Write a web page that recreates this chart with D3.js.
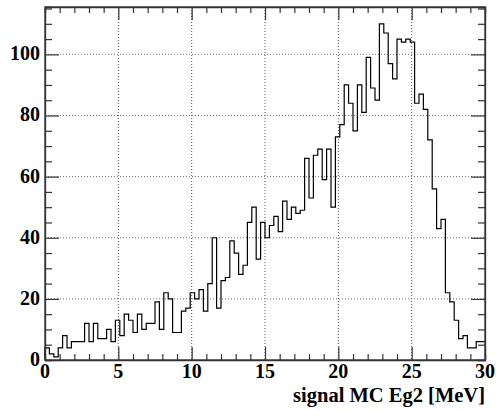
<!DOCTYPE html>
<html>
<head>
<meta charset="utf-8">
<script src="https://cdn.jsdelivr.net/npm/d3@7"></script>
<style>
  body { margin: 0; background: #fff; }
  text { font-family: "Liberation Serif", "DejaVu Serif", serif; font-weight: bold; }
</style>
</head>
<body>
<div id="chart"></div>
<script>
// histogram: 100 bins of 0.3 MeV from 0 to 30
const binLow = 0
const binWidth = 0.3
const counts = [
  4, 2, 1, 4, 8, 4, 6, 6, 6, 12,
  6, 12, 7, 7, 10, 6, 13, 8, 15, 13,
  9, 15, 10, 12, 12, 19, 10, 22, 20, 9,
  9, 16, 17, 22, 20, 23, 16, 25, 40, 17,
  26, 27, 39, 35, 28, 31, 45, 50, 33, 45,
  40, 44, 47, 42, 52, 46, 50, 48, 49, 66,
  53, 67, 69, 59, 69, 50, 73, 77, 90, 84,
  75, 90, 81, 99, 89, 85, 110, 107, 97, 92,
  105, 104, 105, 104, 84, 87, 82, 72, 56, 43,
  46, 22, 19, 13, 7, 8, 4, 4, 6, 6
]
const xMajor = [0, 5, 10, 15, 20, 25, 30]
const yMajor = [0, 20, 40, 60, 80, 100]
const xTitle = "signal MC Eg2 [MeV]"

const W = 496, H = 410
const margin = {top: 7, right: 11, bottom: 50, left: 45}
const width = W - margin.left - margin.right,
      height = H - margin.top - margin.bottom

const svg = d3.select("#chart")
  .append("svg")
    .attr("width", W)
    .attr("height", H)
  .append("g")
    .attr("transform", `translate(${margin.left},${margin.top})`)

const x = d3.scaleLinear().domain([0, 30]).range([0, width])
const y = d3.scaleLinear().domain([0, d3.max(counts) * 1.05]).range([height, 0])

// grid
svg.append("g").selectAll("line")
  .data(xMajor.filter(d => d > 0 && d < 30))
  .enter().append("line")
    .attr("x1", d => x(d)).attr("x2", d => x(d))
    .attr("y1", 0).attr("y2", height)
    .attr("stroke", "#555").attr("stroke-dasharray", "1,2")
svg.append("g").selectAll("line")
  .data(yMajor.filter(d => d > 0))
  .enter().append("line")
    .attr("x1", 0).attr("x2", width)
    .attr("y1", d => y(d)).attr("y2", d => y(d))
    .attr("stroke", "#777").attr("stroke-dasharray", "1,2")

// histogram
const pts = counts.map((c, i) => [binLow + i * binWidth, c])
pts.unshift([binLow, 0])
pts.push([binLow + counts.length * binWidth, counts[counts.length - 1]])
svg.append("path")
  .datum(pts)
  .attr("d", d3.line().x(d => x(d[0])).y(d => y(d[1])).curve(d3.curveStepAfter))
  .attr("fill", "none")
  .attr("stroke", "#000")
  .attr("stroke-width", 1.2)

// axes with ROOT style inward ticks on all four sides
const tickCol = "#333"
const axBottom = svg.append("g").attr("transform", `translate(0,${height})`)
  .call(d3.axisTop(x).tickValues(d3.range(0, 31, 1)).tickSize(6).tickFormat(""))
axBottom.selectAll(".tick line").attr("y2", d => d % 5 === 0 ? -13 : -6)
const axTop = svg.append("g")
  .call(d3.axisBottom(x).tickValues(d3.range(0, 31, 1)).tickSize(6).tickFormat(""))
axTop.selectAll(".tick line").attr("y2", d => d % 5 === 0 ? 13 : 6)
const axLeft = svg.append("g")
  .call(d3.axisRight(y).tickValues(d3.range(0, 116, 5)).tickSize(7).tickFormat(""))
axLeft.selectAll(".tick line").attr("x2", d => d % 20 === 0 ? 14 : 7)
const axRight = svg.append("g").attr("transform", `translate(${width},0)`)
  .call(d3.axisLeft(y).tickValues(d3.range(0, 116, 5)).tickSize(7).tickFormat(""))
axRight.selectAll(".tick line").attr("x2", d => d % 20 === 0 ? -14 : -7)
svg.selectAll(".domain").attr("stroke", tickCol).attr("stroke-width", 1.3)
svg.selectAll(".tick line").attr("stroke", tickCol).attr("stroke-width", 1.2)

// frame
svg.append("rect")
  .attr("width", width).attr("height", height)
  .attr("fill", "none").attr("stroke", tickCol).attr("stroke-width", 1.3)

// labels
svg.append("g").selectAll("text")
  .data(xMajor)
  .enter().append("text")
    .attr("x", d => x(d)).attr("y", height + 18)
    .attr("text-anchor", "middle")
    .style("font-size", "20px")
    .text(d => d)
svg.append("g").selectAll("text")
  .data(yMajor)
  .enter().append("text")
    .attr("x", -5).attr("y", d => y(d) + 6)
    .attr("text-anchor", "end")
    .style("font-size", "20px")
    .text(d => d)

svg.append("text")
  .attr("x", width).attr("y", height + 42)
  .attr("text-anchor", "end")
  .style("font-size", "20.5px")
  .text(xTitle)
</script>
</body>
</html>
